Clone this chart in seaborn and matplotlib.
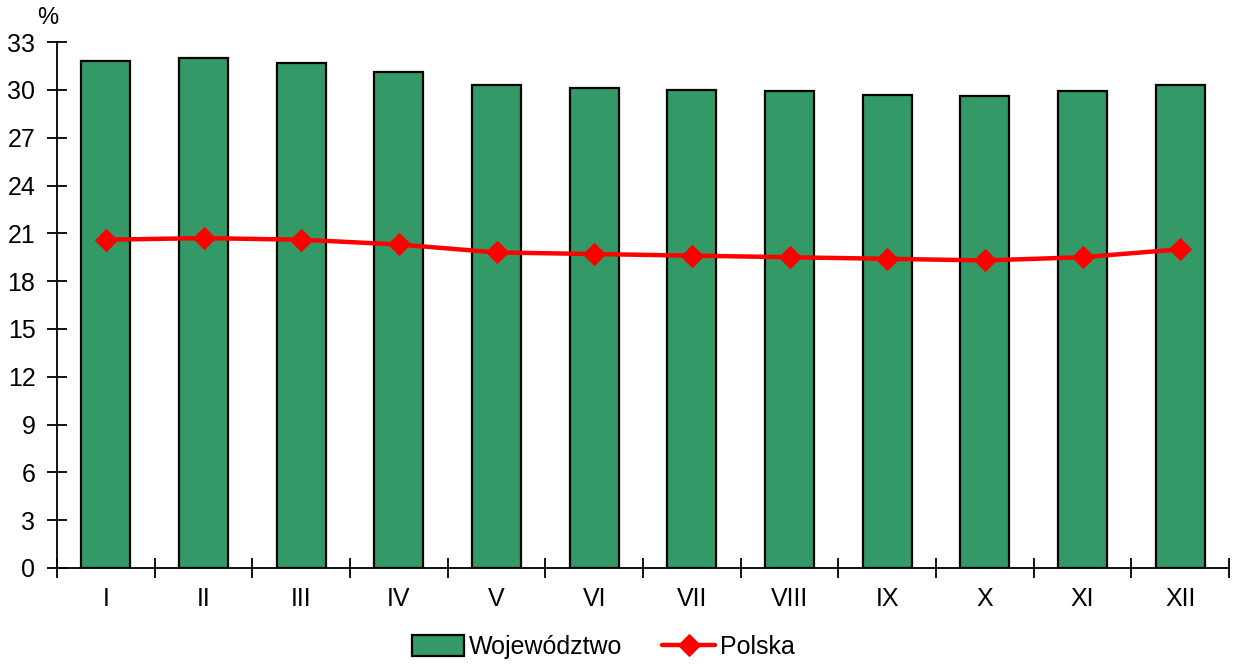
import numpy as np
import pandas as pd
import matplotlib
matplotlib.use("Agg")
import matplotlib.pyplot as plt
import seaborn as sns
from matplotlib.ticker import FixedLocator, NullFormatter

# data
months = ["I", "II", "III", "IV", "V", "VI", "VII", "VIII", "IX", "X", "XI", "XII"]
wojewodztwo = [31.8, 32.0, 31.7, 31.1, 30.3, 30.1, 30.0, 29.9, 29.7, 29.6, 29.9, 30.3]
polska = [20.6, 20.7, 20.6, 20.3, 19.8, 19.7, 19.6, 19.5, 19.4, 19.3, 19.5, 20.0]
y_ticks = list(range(0, 34, 3))

sns.set_style("white")
plt.rcParams["font.family"] = ["Liberation Sans", "DejaVu Sans"]
plt.rcParams["text.color"] = "black"
plt.rcParams["xtick.color"] = "black"
plt.rcParams["ytick.color"] = "black"
plt.rcParams["axes.edgecolor"] = "black"

df = pd.DataFrame({"month": months, "Województwo": wojewodztwo, "Polska": polska})
df["pos"] = np.arange(len(months))

fig = plt.figure(figsize=(12.34, 6.64), dpi=100)
ax = fig.add_axes([0.0462, 0.1446, 0.9498, 0.792])

sns.barplot(data=df, x="month", y="Województwo", color="#339966", saturation=1,
            edgecolor="black", linewidth=1.6, width=0.5, ax=ax, label="Województwo")
sns.lineplot(data=df, x="pos", y="Polska", color="#ff0000", linewidth=3.2,
             marker="D", markersize=11, markeredgecolor="#ff0000", ax=ax,
             label="Polska")

ax.set_xlim(-0.5, len(months) - 0.5)
ax.set_ylim(0, 33)
ax.set_yticks(y_ticks)
ax.tick_params(axis="y", left=True, direction="inout", length=15, width=1.3,
               labelsize=18, pad=8)

# ticks between categories, labels at category centres
ax.xaxis.set_major_locator(FixedLocator(np.arange(-0.5, len(months), 1.0)))
ax.xaxis.set_major_formatter(NullFormatter())
ax.xaxis.set_minor_locator(FixedLocator(df["pos"]))
ax.set_xticklabels(months, minor=True)
ax.tick_params(axis="x", which="major", bottom=True, direction="inout", length=14, width=1.3)
ax.tick_params(axis="x", which="minor", bottom=True, length=0, labelsize=18, pad=14)

ax.set_xlabel("")
ax.set_ylabel("")
for side in ["top", "right"]:
    ax.spines[side].set_visible(False)
ax.spines["left"].set_linewidth(1.3)
ax.spines["bottom"].set_linewidth(1.3)

ax.text(-0.008, 1.045, "%", transform=ax.transAxes, fontsize=17, ha="center", va="center")

handles, labels = ax.get_legend_handles_labels()
order = [labels.index("Województwo"), labels.index("Polska")]
ax.legend([handles[i] for i in order], [labels[i] for i in order],
          loc="upper center", bbox_to_anchor=(0.466, -0.085), ncol=2, frameon=False,
          fontsize=18, handlelength=2.1, handleheight=0.9, columnspacing=1.6,
          handletextpad=0.2)

fig.savefig("out.png", dpi=100)
